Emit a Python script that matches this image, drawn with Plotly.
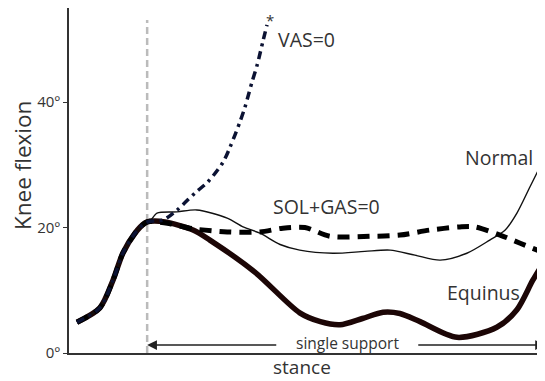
import plotly.graph_objects as go

# Shared initial part of stance (heel strike to foot flat)
common_x = [0, 4.9, 7.7, 9.8, 12.4, 14.5, 15.6]
common_y = [4.9, 7.2, 11.6, 15.9, 19.1, 20.7, 21.0]

normal_x = [17.1, 21.4, 25.6, 32.1, 35.5, 39.1, 43.4, 47.6, 54.7, 61.5, 66.9, 72.2, 77.6, 83.3, 88.2, 91.5, 94.0, 96.8, 99.4]
normal_y = [22.3, 22.5, 22.8, 21.5, 20.1, 19.1, 17.3, 16.4, 15.9, 16.2, 16.4, 15.6, 14.8, 15.9, 18.0, 19.6, 22.3, 26.5, 30.4]

equinus_x = [18.8, 24.8, 28.4, 38.0, 47.6, 52.0, 56.2, 61.0, 65.4, 69.0, 73.3, 81.2, 89.7, 94.0, 97.4, 100]
equinus_y = [20.9, 19.6, 18.0, 12.9, 6.4, 5.0, 4.5, 5.5, 6.5, 6.3, 5.0, 2.5, 4.1, 6.9, 11.6, 14.8]

solgas_x = [19.9, 24.8, 32.1, 39.1, 44.0, 48.7, 54.1, 62.6, 69.0, 75.4, 81.8, 85.0, 90.4, 94.7, 100]
solgas_y = [20.6, 19.8, 19.3, 19.3, 19.9, 20.0, 18.6, 18.6, 18.8, 19.6, 20.1, 20.1, 18.8, 17.5, 15.9]

vas_x = [18.4, 21.4, 25.2, 28.0, 31.2, 32.7, 34.8, 35.9, 37.4, 38.5, 39.7, 40.6]
vas_y = [21.2, 22.8, 25.5, 27.3, 30.4, 32.8, 36.8, 39.2, 43.2, 45.9, 49.6, 52.3]

y_ticks = [0, 20, 40]
y_tick_labels = ["0º", "20º", "40º"]

foot_flat = 15.0
single_support_end = 100

FONT = "Open Sans"
TXT = "#333333"

fig = go.Figure()

fig.add_trace(go.Scatter(x=common_x + equinus_x, y=common_y + equinus_y, mode="lines",
                         line=dict(color="#1c0606", width=5.5, shape="spline", smoothing=0.8)))
fig.add_trace(go.Scatter(x=common_x + normal_x, y=common_y + normal_y, mode="lines",
                         line=dict(color="#111111", width=1.4, shape="spline", smoothing=0.8)))
fig.add_trace(go.Scatter(x=common_x + solgas_x, y=common_y + solgas_y, mode="lines",
                         line=dict(color="#000000", width=5, dash="12px,8px", shape="spline", smoothing=0.8)))
fig.add_trace(go.Scatter(x=common_x + vas_x, y=common_y + vas_y, mode="lines",
                         line=dict(color="#0b1233", width=3.5, dash="8px,5px,3px,5px", shape="spline", smoothing=0.8)))

fig.add_shape(type="line", x0=foot_flat, x1=foot_flat, y0=0, y1=53.1, xref="x", yref="y",
              line=dict(color="#bbbbbb", width=2.5, dash="7px,4px"), layer="below")

# single support arrows
fig.add_annotation(x=foot_flat, y=1.27, ax=42.9, ay=1.27, xref="x", yref="y", axref="x", ayref="y",
                   showarrow=True, arrowhead=2, arrowsize=1.4, arrowwidth=1.4, arrowcolor="#222222", text="")
fig.add_annotation(x=single_support_end, y=1.27, ax=72.6, ay=1.27, xref="x", yref="y", axref="x", ayref="y",
                   showarrow=True, arrowhead=2, arrowsize=1.4, arrowwidth=1.4, arrowcolor="#222222", text="")
fig.add_annotation(x=57.7, y=1.6, xref="x", yref="y", text="single support", showarrow=False,
                   xanchor="center", yanchor="middle",
                   font=dict(family=FONT, size=15.5, color=TXT))

labels = [("VAS=0", 49.1, 49.9), ("Normal", 90.2, 31.2), ("SOL+GAS=0", 53.4, 23.3), ("Equinus", 86.8, 9.6)]
for t, lx, ly in labels:
    fig.add_annotation(x=lx, y=ly, xref="x", yref="y", text=t, showarrow=False,
                       xanchor="center", yanchor="middle",
                       font=dict(family=FONT, size=19.5, color=TXT))
fig.add_annotation(x=41.2, y=55, xref="x", yref="y", text="*", showarrow=False,
                   xanchor="center", yanchor="top",
                   font=dict(family=FONT, size=15, color=TXT))

fig.add_annotation(x=-0.0987, y=0.542, xref="paper", yref="paper", text="Knee flexion", showarrow=False,
                   textangle=-90, xanchor="center", yanchor="middle",
                   font=dict(family=FONT, size=22.5, color=TXT))
fig.add_annotation(x=0.4895, y=-0.0406, xref="paper", yref="paper", text="stance", showarrow=False,
                   xanchor="center", yanchor="middle",
                   font=dict(family=FONT, size=19, color=TXT))

# page body has an 8px default margin, so the figure is sized/offset to compensate
fig.update_layout(
    width=537, height=373,
    margin=dict(l=61, r=0, t=0, b=28),
    paper_bgcolor="white", plot_bgcolor="white",
    showlegend=False,
    xaxis=dict(range=[-1.7, 100], showgrid=False, zeroline=False, showticklabels=False,
               showline=True, linecolor="#333333", linewidth=2, ticks=""),
    yaxis=dict(range=[0, 55], showgrid=False, zeroline=False, showline=True, linecolor="#333333",
               linewidth=2, tickvals=y_ticks, ticktext=y_tick_labels, ticks="outside", ticklen=4,
               tickcolor="#333333", tickfont=dict(family=FONT, size=15, color=TXT)),
)

fig.write_html("out.html")
